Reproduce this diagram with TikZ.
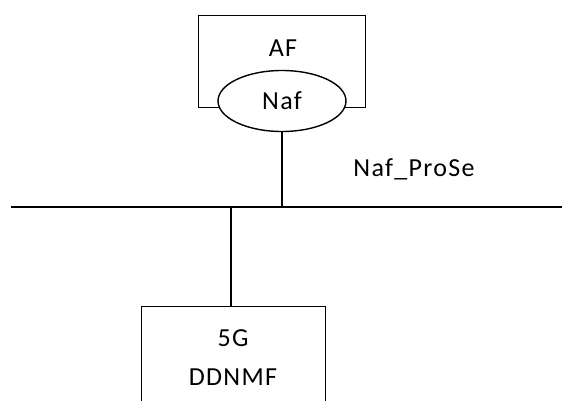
\documentclass[tikz,border=0pt]{standalone}
\usepackage{fontspec}
\setmainfont{Carlito}[LetterSpace=5]
\usetikzlibrary{shapes.geometric}
\begin{document}
\begin{tikzpicture}[x=1pt,y=-1pt,line width=1.4pt,
  lbl/.style={font=\fontsize{26}{30}\selectfont,inner sep=0pt},
  boxst/.style={draw,inner sep=0pt,anchor=north west}]
\useasboundingbox (0,0) rectangle (562,401);
\clip (0,0) rectangle (562,401);
\node[boxst,minimum width=167pt,minimum height=92pt] (af) at (198,15) {};
\node[lbl] (aftext) at (283,48) {AF};
\node[ellipse,draw,fill=white,minimum width=128pt,minimum height=61pt,lbl] (naf) at (282,101) {Naf};
\coordinate (busL) at (11,207);
\coordinate (busR) at (562,207);
\draw (busL) -- (busR);
\draw (naf.south) -- (naf.south |- busL);
\node[lbl] (prose) at (414,169) {Naf\_ProSe};
\node[boxst,minimum width=184pt,minimum height=130pt] (dd) at (141,306) {};
\node[lbl] (fiveg) at (233,338) {5G};
\node[lbl] (ddnmf) at (233,377) {DDNMF};
\coordinate (ddtop) at (231,306);
\draw (ddtop) -- (ddtop |- busL);
\end{tikzpicture}
\end{document}
